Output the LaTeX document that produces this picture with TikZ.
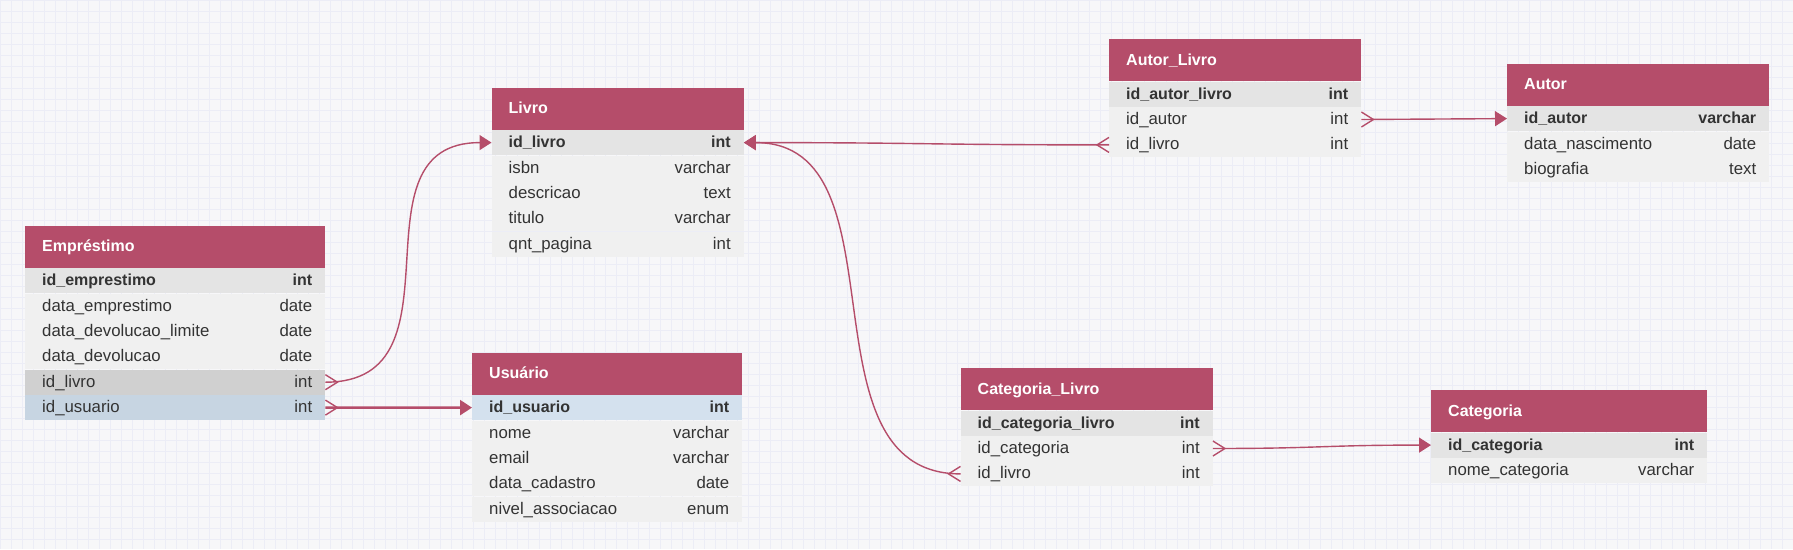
\documentclass[tikz,border=0pt]{standalone}
\usepackage{fontspec}
\setmainfont{Liberation Sans}
\usetikzlibrary{positioning,arrows.meta}

\definecolor{headrose}{HTML}{B54D6A}
\definecolor{linerose}{HTML}{B54D6A}
\definecolor{rowgrey}{HTML}{F0F0F0}
\definecolor{keygrey}{HTML}{E4E4E4}
\definecolor{selgrey}{HTML}{D0D0D0}
\definecolor{selblue}{HTML}{C7D5E2}
\definecolor{keyblue}{HTML}{D4E1EE}
\definecolor{fieldtext}{HTML}{333333}
\definecolor{canvas}{HTML}{F7F7F9}
\definecolor{gridline}{HTML}{ECEDF6}

\newcommand{\tblfield}[2]{\hspace*{17pt}#1\hfill#2\hspace*{13pt}}
\newcommand{\crowfoot}[2]{\draw[relline] ([yshift=7.5pt]#1) -- ([xshift=#2*12pt]#1) -- ([yshift=-7.5pt]#1);}

\tikzset{
  tablehead/.style={anchor=north west, fill=headrose, text=white, font=\fontsize{16pt}{19pt}\bfseries,
    inner sep=0pt, minimum height=42pt, text height=13pt, text depth=3pt, align=left},
  fieldrow/.style={fill=rowgrey, text=fieldtext, inner sep=0pt, minimum height=25pt,
    text height=13pt, text depth=3pt, align=left},
  keyrow/.style={fieldrow, fill=keygrey, font=\fontsize{16pt}{19pt}\bfseries},
  relline/.style={draw=linerose, line width=1.4pt},
  reltip/.style={-{Triangle[length=12pt,width=15pt]}},
}

\begin{document}
\fontsize{16.8pt}{19pt}\selectfont
\begin{tikzpicture}[x=1pt, y=-1pt]
    \useasboundingbox (0,0) rectangle (1793,549);
    \fill[canvas] (0,0) rectangle (1793,549);
    \draw[gridline, line width=0.5pt, step=11pt] (0,0) grid (1793,549);

    \begin{scope}[every node/.append style={text width=300pt}]
    \node[tablehead] (emp) at (25,225.5) {\tblfield{Empréstimo}{}};
    \node[keyrow, below=0pt of emp] (emp-id) {\tblfield{id\_emprestimo}{int}};
    \node[fieldrow, below=0pt of emp-id] (emp-data) {\tblfield{data\_emprestimo}{date}};
    \node[fieldrow, below=0pt of emp-data] (emp-limite) {\tblfield{data\_devolucao\_limite}{date}};
    \node[fieldrow, below=0pt of emp-limite] (emp-devol) {\tblfield{data\_devolucao}{date}};
    \node[fieldrow, fill=selgrey, below=0pt of emp-devol] (emp-livro) {\tblfield{id\_livro}{int}};
    \node[fieldrow, fill=selblue, below=0pt of emp-livro] (emp-usuario) {\tblfield{id\_usuario}{int}};
    \end{scope}

    \begin{scope}[every node/.append style={text width=252pt}]
    \node[tablehead] (livro) at (491.5,87.5) {\tblfield{Livro}{}};
    \node[keyrow, below=0pt of livro] (livro-id) {\tblfield{id\_livro}{int}};
    \node[fieldrow, below=0pt of livro-id] (livro-isbn) {\tblfield{isbn}{varchar}};
    \node[fieldrow, below=0pt of livro-isbn] (livro-desc) {\tblfield{descricao}{text}};
    \node[fieldrow, below=0pt of livro-desc] (livro-titulo) {\tblfield{titulo}{varchar}};
    \node[fieldrow, below=0pt of livro-titulo] (livro-pag) {\tblfield{qnt\_pagina}{int}};
    \end{scope}

    \begin{scope}[every node/.append style={text width=270pt}]
    \node[tablehead] (usu) at (472,352.5) {\tblfield{Usuário}{}};
    \node[keyrow, fill=keyblue, below=0pt of usu] (usu-id) {\tblfield{id\_usuario}{int}};
    \node[fieldrow, below=0pt of usu-id] (usu-nome) {\tblfield{nome}{varchar}};
    \node[fieldrow, below=0pt of usu-nome] (usu-email) {\tblfield{email}{varchar}};
    \node[fieldrow, below=0pt of usu-email] (usu-cad) {\tblfield{data\_cadastro}{date}};
    \node[fieldrow, below=0pt of usu-cad] (usu-nivel) {\tblfield{nivel\_associacao}{enum}};
    \end{scope}

    \begin{scope}[every node/.append style={text width=252pt}]
    \node[tablehead] (autlivro) at (1109,39) {\tblfield{Autor\_Livro}{}};
    \node[keyrow, below=0pt of autlivro] (autlivro-id) {\tblfield{id\_autor\_livro}{int}};
    \node[fieldrow, below=0pt of autlivro-id] (autlivro-autor) {\tblfield{id\_autor}{int}};
    \node[fieldrow, below=0pt of autlivro-autor] (autlivro-livro) {\tblfield{id\_livro}{int}};
    \end{scope}

    \begin{scope}[every node/.append style={text width=262pt}]
    \node[tablehead] (autor) at (1507,63.5) {\tblfield{Autor}{}};
    \node[keyrow, below=0pt of autor] (autor-id) {\tblfield{id\_autor}{varchar}};
    \node[fieldrow, below=0pt of autor-id] (autor-nasc) {\tblfield{data\_nascimento}{date}};
    \node[fieldrow, below=0pt of autor-nasc] (autor-bio) {\tblfield{biografia}{text}};
    \end{scope}

    \begin{scope}[every node/.append style={text width=252pt}]
    \node[tablehead] (catlivro) at (960.5,368) {\tblfield{Categoria\_Livro}{}};
    \node[keyrow, below=0pt of catlivro] (catlivro-id) {\tblfield{id\_categoria\_livro}{int}};
    \node[fieldrow, below=0pt of catlivro-id] (catlivro-cat) {\tblfield{id\_categoria}{int}};
    \node[fieldrow, below=0pt of catlivro-cat] (catlivro-livro) {\tblfield{id\_livro}{int}};
    \end{scope}

    \begin{scope}[every node/.append style={text width=276pt}]
    \node[tablehead] (cat) at (1431,390) {\tblfield{Categoria}{}};
    \node[keyrow, below=0pt of cat] (cat-id) {\tblfield{id\_categoria}{int}};
    \node[fieldrow, below=0pt of cat-id] (cat-nome) {\tblfield{nome\_categoria}{varchar}};
    \end{scope}

    \draw[relline, reltip] (emp-livro.east) .. controls +(145,0) and +(-146,0) .. (livro-id.west);
    \draw[relline, reltip, line width=2.4pt] (emp-usuario.east) .. controls +(73,0) and +(-73,0) .. (usu-id.west);
    \draw[relline, reltip] (autlivro-livro.west) .. controls +(-183,0) and +(183,0) .. (livro-id.east);
    \draw[relline, reltip] (catlivro-livro.west) .. controls +(-165,0) and +(165,0) .. (livro-id.east);
    \draw[relline, reltip] (autlivro-autor.east) -- (autor-id.west);
    \draw[relline, reltip] (catlivro-cat.east) .. controls +(109,0) and +(-109,0) .. (cat-id.west);

    \crowfoot{emp-livro.east}{1}
    \crowfoot{emp-usuario.east}{1}
    \crowfoot{autlivro-livro.west}{-1}
    \crowfoot{catlivro-livro.west}{-1}
    \crowfoot{autlivro-autor.east}{1}
    \crowfoot{catlivro-cat.east}{1}
  \end{tikzpicture}
\end{document}
